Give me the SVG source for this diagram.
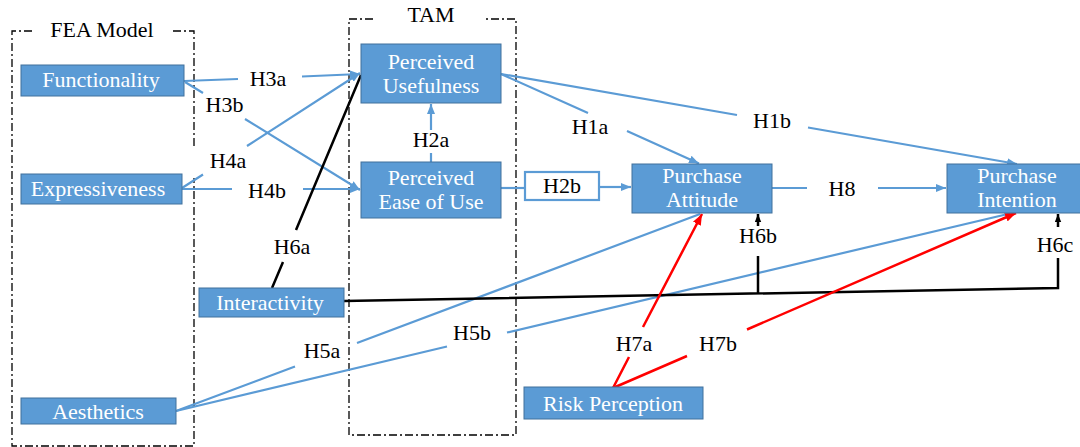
<svg xmlns="http://www.w3.org/2000/svg" width="1080" height="447" viewBox="0 0 1080 447" font-family="'Liberation Serif', 'Times New Roman', 'DejaVu Serif', serif">
<style>
text{font-family:'Liberation Serif','Times New Roman','DejaVu Serif',serif;font-size:22px;text-anchor:middle}
.lbl{fill:#000}
.bt{fill:#fff}
.box{fill:#5B9BD5;stroke:#41719C;stroke-width:1}
.grp{fill:none;stroke:#000;stroke-width:1.3;stroke-dasharray:8 3 2 3}
.blue{fill:none;stroke:#5B9BD5;stroke-width:2.2}
.black{fill:none;stroke:#000;stroke-width:2.5}
.red{fill:none;stroke:#FF0000;stroke-width:2.5}
</style>
<defs>
<marker id="ab" viewBox="0 0 10 8" refX="10" refY="4" markerWidth="10" markerHeight="8" markerUnits="userSpaceOnUse" orient="auto"><path d="M0,0 L10,4 L0,8 z" fill="#5B9BD5"/></marker>
<marker id="ar" viewBox="0 0 10 8" refX="10" refY="4" markerWidth="11" markerHeight="9" markerUnits="userSpaceOnUse" orient="auto"><path d="M0,0 L10,4 L0,8 z" fill="#FF0000"/></marker>
<marker id="ak" viewBox="0 0 10 8" refX="10" refY="4" markerWidth="8" markerHeight="7" markerUnits="userSpaceOnUse" orient="auto"><path d="M0,0 L10,4 L0,8 z" fill="#000"/></marker>
</defs>
<rect width="1080" height="447" fill="#fff"/>

<g id="fea-group">
<path class="grp" d="M32,31 L12,31 L12,446 L194,446 L194,178 M194,146 L194,31 L173,31"/>
<text class="lbl" x="102" y="37">FEA Model</text>
</g>
<g id="tam-group">
<path class="grp" d="M373,19 L349,19 L349,435 L516,435 L516,19 L483,19"/>
<text class="lbl" x="431" y="22">TAM</text>
</g>

<g id="connectors">
<path class="blue" d="M184,81 L238,79 M302,76.5 L360,74" marker-end="url(#ab)"/>
<path class="blue" d="M185,82 L203,93 M245,119 L360,190" marker-end="url(#ab)"/>
<path class="blue" d="M182,188 L203,174.5 M247,146 L360,73" marker-end="url(#ab)"/>
<path class="blue" d="M182,189 L232,189 M303,189 L360,189" marker-end="url(#ab)"/>
<path class="blue" d="M431,162 L431,153 M431,130 L431,104" marker-end="url(#ab)"/>
<path class="blue" d="M501,188 L525,188"/>
<path class="blue" d="M599,187 L631,187" marker-end="url(#ab)"/>
<path class="blue" d="M501,74 L588,113 M627,131 L699,163.5" marker-end="url(#ab)"/>
<path class="blue" d="M501,74 L737,115 M808,127.5 L1017,164" marker-end="url(#ab)"/>
<path class="blue" d="M772,188 L807,188 M878,188 L946,188" marker-end="url(#ab)"/>
<path class="blue" d="M176,411 L295,366.5 M357,343 L700,214"/>
<path class="blue" d="M176,411 L447,346.5 M507,332.5 L1010,213.5"/>
<path class="black" d="M272,288 L283,262 M296,230 L361,75"/>
<path class="black" d="M344,301 L1058,288 L1058,258"/>
<path class="black" d="M1058,227 L1058,214" marker-end="url(#ak)"/>
<path class="black" d="M758,293.5 L758,256"/>
<path class="black" d="M758,226 L758,214" marker-end="url(#ak)"/>
<path class="red" d="M613,388 L629,357 M643,327 L702,214" marker-end="url(#ar)"/>
<path class="red" d="M613,388 L687,356 M747,329.5 L1016,213" marker-end="url(#ar)"/>
<text class="lbl" x="268" y="86">H3a</text>
<text class="lbl" x="224.5" y="112">H3b</text>
<text class="lbl" x="228" y="168">H4a</text>
<text class="lbl" x="267" y="198">H4b</text>
<text class="lbl" x="431" y="147">H2a</text>
<text class="lbl" x="590" y="134">H1a</text>
<text class="lbl" x="772" y="128">H1b</text>
<text class="lbl" x="842" y="196">H8</text>
<text class="lbl" x="292" y="254">H6a</text>
<text class="lbl" x="758" y="243">H6b</text>
<text class="lbl" x="1055" y="252">H6c</text>
<text class="lbl" x="322" y="358">H5a</text>
<text class="lbl" x="472" y="340">H5b</text>
<text class="lbl" x="634" y="351">H7a</text>
<text class="lbl" x="718" y="351">H7b</text>
</g>

<g id="h2b">
<rect x="525" y="172" width="74" height="28" fill="#fff" stroke="#5B9BD5" stroke-width="2.2"/>
<text class="lbl" x="562" y="193">H2b</text>
</g>

<g id="functionality">
<rect class="box" x="21" y="65" width="163" height="31"/>
<text class="bt" x="101" y="87">Functionality</text>
</g>
<g id="expressiveness">
<rect class="box" x="21" y="174" width="161" height="30"/>
<text class="bt" x="98" y="196">Expressiveness</text>
</g>
<g id="interactivity">
<rect class="box" x="199" y="288" width="145" height="29"/>
<text class="bt" x="270" y="310">Interactivity</text>
</g>
<g id="aesthetics">
<rect class="box" x="21" y="398" width="155" height="26"/>
<text class="bt" x="98" y="419">Aesthetics</text>
</g>
<g id="perceived-usefulness">
<rect class="box" x="361" y="44" width="140" height="59"/>
<text class="bt" x="431" y="69">Perceived</text>
<text class="bt" x="431" y="93">Usefulness</text>
</g>
<g id="perceived-ease-of-use">
<rect class="box" x="361" y="162" width="140" height="56"/>
<text class="bt" x="431" y="185">Perceived</text>
<text class="bt" x="431" y="209">Ease of Use</text>
</g>
<g id="purchase-attitude">
<rect class="box" x="632" y="164" width="140" height="49"/>
<text class="bt" x="702" y="183">Purchase</text>
<text class="bt" x="702" y="207">Attitude</text>
</g>
<g id="purchase-intention">
<rect class="box" x="947" y="164" width="140" height="49"/>
<text class="bt" x="1017" y="183">Purchase</text>
<text class="bt" x="1017" y="207">Intention</text>
</g>
<g id="risk-perception">
<rect class="box" x="524" y="387" width="179" height="32"/>
<text class="bt" x="613" y="411">Risk Perception</text>
</g>
</svg>
